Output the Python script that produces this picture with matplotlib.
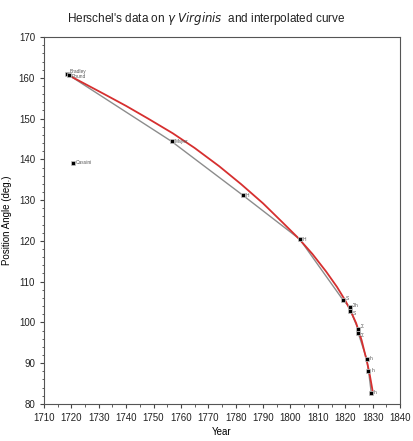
import matplotlib
matplotlib.use("Agg")
import matplotlib.pyplot as plt
from matplotlib.ticker import MultipleLocator

plt.rcParams['font.family'] = ['Liberation Sans', 'DejaVu Sans']

obs_year = [1718.3, 1719.0, 1720.5, 1756.6, 1782.6, 1803.4,
            1819.2, 1821.7, 1821.9, 1824.7, 1824.8, 1827.8, 1828.5, 1829.5]
obs_angle = [161.0, 160.7, 139.2, 144.4, 131.2, 120.4,
             105.5, 103.7, 102.9, 98.4, 97.3, 91.1, 88.2, 82.8]
obs_label = ['Bradley', 'Pound', 'Cassini', 'Mayer', 'H', 'H',
             'S', 'Σh', 'S', 'Σ', 'Σ', 'h', 'h', 'h']
# small label nudges (deg.) so stacked names stay readable
label_dy = [0.6, -0.4, 0, 0, 0, 0, 0.4, 0.4, -0.6, 0.5, -0.6, 0, 0, 0]

curve_year = [1718.5, 1725, 1732, 1740, 1748, 1757, 1765, 1774, 1782,
              1790, 1797, 1803, 1808, 1813, 1817, 1820, 1822, 1824,
              1826, 1828, 1829, 1830]
curve_angle = [160.8, 158.5, 156.0, 153.1, 150.0, 146.4, 142.8, 138.3, 133.9,
               129.2, 124.6, 120.6, 116.8, 112.5, 108.7, 105.4, 102.8, 99.8,
               95.6, 90.2, 87.0, 83.2]

fig = plt.figure(figsize=(4.13, 4.41), dpi=100)
ax = fig.add_axes([0.1065, 0.084, 0.862, 0.832])

# connect the observations (Cassini left out)
line_idx = [i for i in range(len(obs_year)) if obs_label[i] != 'Cassini']
ax.plot([obs_year[i] for i in line_idx], [obs_angle[i] for i in line_idx],
        color='#8c8c8c', lw=1.0, zorder=2)
ax.plot(curve_year, curve_angle, color='#d62f2f', lw=1.3, zorder=3)
ax.scatter(obs_year, obs_angle, marker='s', s=9, color='black',
           edgecolors='#c8c8c8', linewidths=0.5, zorder=4)

for x, y, t, dy in zip(obs_year, obs_angle, obs_label, label_dy):
    ax.text(x + 1.0, y + dy, t, fontsize=3.5, color='#555555',
            va='center', ha='left', zorder=5)

ax.set_xlim(1710, 1840)
ax.set_ylim(80, 170)
ax.xaxis.set_major_locator(MultipleLocator(10))
ax.xaxis.set_minor_locator(MultipleLocator(5))
ax.yaxis.set_major_locator(MultipleLocator(10))
ax.yaxis.set_minor_locator(MultipleLocator(2))
ax.tick_params(which='both', direction='out', labelsize=7, colors='#444444',
               labelcolor='#222222')
ax.tick_params(which='major', length=3)
ax.tick_params(which='minor', length=1.8)
for s in ax.spines.values():
    s.set_color('#555555')
    s.set_linewidth(0.8)

ax.set_xlabel('Year', fontsize=7, labelpad=3)
ax.set_ylabel('Position Angle (deg.)', fontsize=7, labelpad=5)

fig.text(0.5, 0.957, "Herschel's data on $\\gamma$ $\\it{Virginis}$  and interpolated curve",
         ha='center', va='center', fontsize=8.5, color='#222222')

fig.savefig('out.png', dpi=100)
